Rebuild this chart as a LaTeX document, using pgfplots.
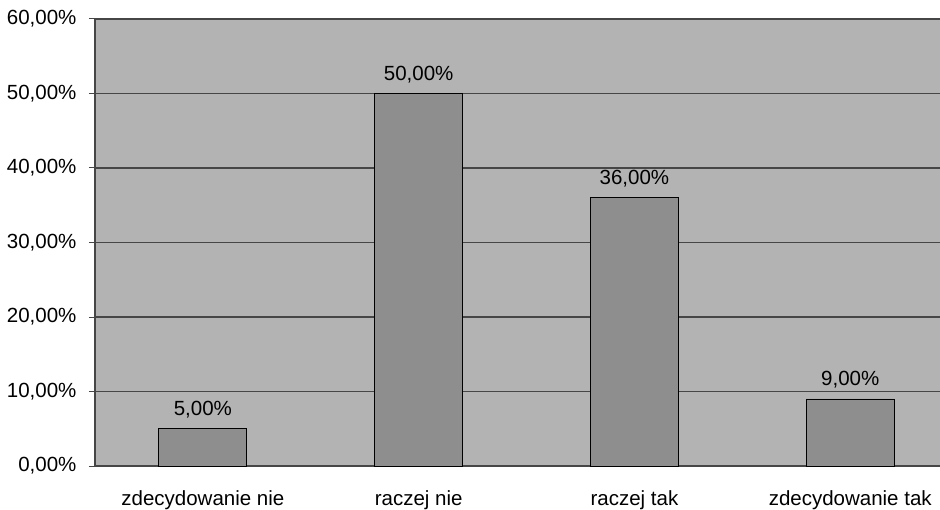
\documentclass[border=0pt]{standalone}
\usepackage{pgfplots}
\pgfplotsset{compat=1.18}
\usepackage{fontspec}
\setmainfont{Liberation Sans}
\definecolor{plotbg}{RGB}{179,179,179}
\definecolor{barfill}{RGB}{142,142,142}
\definecolor{gridcol}{RGB}{70,70,70}
\newcommand{\lblfont}{\fontsize{20.5}{24}\selectfont}
\begin{document}
\begin{tikzpicture}
\path[use as bounding box] (0,0) rectangle (940pt,509pt);
\begin{axis}[
  at={(95pt,43pt)}, anchor=south west,
  scale only axis,
  width=845pt, height=447pt,
  font=\lblfont,
  xmin=-0.5, xmax=3.416,
  ymin=0, ymax=60,
  axis background/.style={fill=plotbg},
  axis x line*=bottom, axis y line*=left,
  x axis line style={-, gridcol, line width=1.2pt},
  y axis line style={-, gridcol, line width=1.2pt},
  xtick={0,1,2,3},
  xticklabels={zdecydowanie nie, raczej nie, raczej tak, zdecydowanie tak},
  major x tick style={draw=none},
  extra x ticks={-0.5,0.5,1.5,2.5},
  extra x tick labels={},
  extra x tick style={major tick length=6pt, tick style={draw=gridcol, line width=1pt}, grid=none},
  ytick={0,10,20,30,40,50,60},
  yticklabels={0{,}00\%,10{,}00\%,20{,}00\%,30{,}00\%,40{,}00\%,50{,}00\%,60{,}00\%},
  ymajorgrids,
  major grid style={gridcol, line width=1.2pt},
  tick align=outside,
  major tick length=6pt,
  y tick style={gridcol, line width=1pt},
  yticklabel style={font=\lblfont, xshift=-9pt},
  xticklabel style={font=\lblfont, yshift=-15pt},
  ybar, bar width=88pt,
  nodes near coords,
  point meta=explicit symbolic,
  every node near coord/.append style={font=\lblfont, black, yshift=7pt},
  clip=false,
]
\addplot[fill=barfill, draw=black, line width=0.9pt] coordinates {
  (0,5)  [5{,}00\%]
  (1,50) [50{,}00\%]
  (2,36) [36{,}00\%]
  (3,9)  [9{,}00\%]
};
\end{axis}
\end{tikzpicture}
\end{document}
